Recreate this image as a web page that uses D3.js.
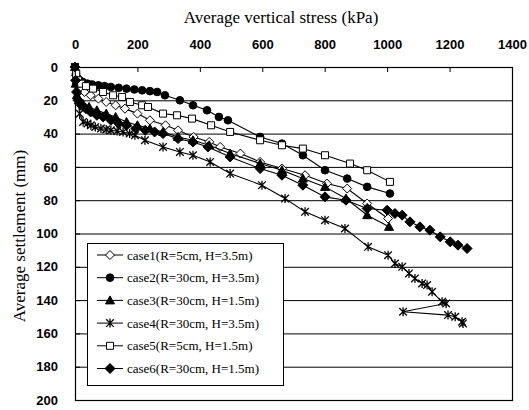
<!DOCTYPE html>
<html>
<head>
<meta charset="utf-8">
<script src="https://cdn.jsdelivr.net/npm/d3@7"></script>
<style>
  body { margin: 0; background: #fff; }
  svg { display: block; font-family: "Liberation Serif", "Times New Roman", serif; }
  .tick text { font-size: 13px; font-weight: bold; fill: #000; }
  .axistitle { font-size: 17px; fill: #000; }
  .legend text { font-size: 13px; fill: #000; }
</style>
</head>
<body>
<svg id="chart" width="529" height="410"></svg>
<script>
"use strict";

// [average vertical stress (kPa), average settlement (mm)]
const case1 = [[0,0],[3,5],[8,10],[15,13],[30,15],[50,17],[75,19],[100,21],[130,23],[160,25],[200,28],
  [240,32],[290,35],[330,38],[380,42],[430,45],[465,48],[530,52],[593,57],[663,61],[737,65],[807,70],
  [872,73],[936,82],[1003,91]];
const case2 = [[0,0],[3,4],[8,7],[15,8],[25,9],[40,10],[55,10.5],[75,11],[95,11.5],[115,12],[140,12.5],
  [165,13],[190,13.5],[215,14],[240,14.5],[263,15],[288,17],[336,20],[378,23],[423,26],[461,30],[490,32],
  [593,42],[663,46],[730,53],[801,62],[872,67],[936,72],[1009,76]];
const case3 = [[0,0],[2,10],[6,17],[12,20],[25,22],[45,24],[70,26],[100,28],[130,30],[165,33],[200,35],
  [240,37],[282,39],[330,42],[378,44],[430,47],[497,52],[593,58],[663,62],[730,67],[801,72],[868,79],
  [936,89],[1006,96]];
const case4 = [[0,0],[3,8],[8,18],[15,28],[26,33],[40,34],[51,35],[65,36],[83,37],[100,37.5],[115,38],
  [135,38.5],[154,39],[175,40],[192,41],[224,44],[282,48],[336,51],[378,53],[433,57],[497,64],[599,71],
  [673,79],[737,87],[801,92],[865,97],[939,108],[1003,113],[1025,118],[1048,120],[1070,124],[1089,127],
  [1112,130],[1128,131],[1144,135],[1176,141],[1189,142],[1051,147],[1195,149],[1218,150],[1240,153],
  [1243,154]];
const case5 = [[0,0],[4,4],[10,8],[20,10],[35,11.5],[58,13],[90,15],[122,17],[151,18],[176,21],[215,23],
  [234,24],[282,28],[327,29],[375,31],[436,35],[497,39],[593,44],[663,47],[730,49],[801,53],[881,58],
  [936,62],[1009,69]];
const case6 = [[0,0],[2,8],[5,15],[10,20],[20,23],[35,25],[50,27],[70,29],[90,30],[115,32],[140,34],
  [165,35],[195,37],[225,38],[255,39],[282,40],[330,43],[378,45],[426,48],[497,54],[593,61],[663,65],
  [730,71],[801,78],[868,80],[936,85],[1000,86],[1025,88],[1048,89],[1073,93],[1105,96],[1137,98],
  [1170,102],[1202,105],[1227,107],[1256,109]];

const seriesData = [case1, case2, case3, case4, case5, case6];
const legendLabels = [
  "case1(R=5cm, H=3.5m)",
  "case2(R=30cm, H=3.5m)",
  "case3(R=30cm, H=1.5m)",
  "case4(R=30cm, H=3.5m)",
  "case5(R=5cm, H=1.5m)",
  "case6(R=30cm, H=1.5m)"
];
const markerKinds = ["opendiamond", "circle", "triangle", "star", "square", "diamond"];
const xTicks = [0, 200, 400, 600, 800, 1000, 1200, 1400];
const yTicks = [0, 20, 40, 60, 80, 100, 120, 140, 160, 180, 200];

// plot frame
const plotLeft = 75, plotRight = 512, plotTop = 67, plotBottom = 400;

const svg = d3.select("#chart");

const x = d3.scaleLinear().domain([0, 1400]).range([plotLeft, plotRight]);
const y = d3.scaleLinear().domain([0, 200]).range([plotTop, plotBottom]);

// marker shapes, centred on 0,0
function markerPath(kind) {
  switch (kind) {
    case "opendiamond": return "M0,-4.5L4.5,0L0,4.5L-4.5,0Z";
    case "diamond": return "M0,-5L5,0L0,5L-5,0Z";
    case "circle": return d3.symbol(d3.symbolCircle, 46)();
    case "triangle": return "M0,-4.5L4.5,3.5L-4.5,3.5Z";
    case "square": return "M-3.5,-3.5H3.5V3.5H-3.5Z";
    case "star": return "M-3.8,-3.8L3.8,3.8M-3.8,3.8L3.8,-3.8M0,-4.5V4.5";
  }
}
function markerFill(kind) {
  return (kind == "opendiamond" || kind == "square") ? "#fff" : (kind == "star" ? "none" : "#000");
}

// grid lines
svg.append("g")
  .selectAll("line")
  .data(yTicks.slice(1, -1))
  .join("line")
  .attr("x1", plotLeft).attr("x2", plotRight)
  .attr("y1", d => y(d) + 0.5).attr("y2", d => y(d) + 0.5)
  .attr("stroke", "#000").attr("stroke-width", 1);

// axes
const xaxis = svg.append("g")
  .attr("transform", `translate(0, ${plotTop})`)
  .call(d3.axisTop(x).tickValues(xTicks).tickFormat(d3.format("d"))
    .tickSizeInner(-5).tickSizeOuter(0).tickPadding(18));
xaxis.select(".domain").remove();
xaxis.selectAll(".tick line").attr("stroke", "#000");

const yaxis = svg.append("g")
  .attr("transform", `translate(${plotLeft}, 0)`)
  .call(d3.axisLeft(y).tickValues(yTicks).tickFormat(d3.format("d"))
    .tickSizeInner(-5).tickSizeOuter(0).tickPadding(17));
yaxis.select(".domain").remove();
yaxis.selectAll(".tick line").attr("stroke", "#000");

svg.append("rect")
  .attr("x", plotLeft + 0.5).attr("y", plotTop + 0.5)
  .attr("width", plotRight - plotLeft).attr("height", plotBottom - plotTop)
  .attr("fill", "none").attr("stroke", "#000").attr("stroke-width", 1.2);

// titles
svg.append("text")
  .classed("axistitle", true)
  .attr("x", 281)
  .attr("y", 23)
  .attr("text-anchor", "middle")
  .text("Average vertical stress (kPa)");
svg.append("text")
  .classed("axistitle", true)
  .attr("transform", `translate(25, 236) rotate(-90)`)
  .attr("text-anchor", "middle")
  .text("Average settlement (mm)");

// series
const line = d3.line().x(d => x(d[0])).y(d => y(d[1]));
const series = svg.append("g").classed("series", true)
  .selectAll("g")
  .data(seriesData)
  .join("g");
series.append("path")
  .attr("d", d => line(d))
  .attr("fill", "none").attr("stroke", "#000").attr("stroke-width", 1.1);
series.each(function(d, i) {
  let kind = markerKinds[i];
  d3.select(this).selectAll("path.marker")
    .data(d)
    .join("path")
    .classed("marker", true)
    .attr("transform", p => `translate(${x(p[0])}, ${y(p[1])})`)
    .attr("d", markerPath(kind))
    .attr("fill", markerFill(kind))
    .attr("stroke", "#000")
    .attr("stroke-width", kind == "star" ? 1.3 : 1);
});

// legend
const legend = svg.append("g").classed("legend", true);
legend.append("rect")
  .attr("x", 87.5).attr("y", 243.5).attr("width", 196).attr("height", 142)
  .attr("fill", "#fff").attr("stroke", "#000").attr("stroke-width", 1);
const rows = legend.selectAll("g.row")
  .data(legendLabels)
  .join("g")
  .classed("row", true)
  .attr("transform", (d, i) => `translate(0, ${255 + i * 22.7})`);
rows.append("line")
  .attr("x1", 97).attr("x2", 123)
  .attr("stroke", "#000").attr("stroke-width", 1);
rows.append("path")
  .attr("transform", "translate(110, 0)")
  .attr("d", (d, i) => markerPath(markerKinds[i]))
  .attr("fill", (d, i) => markerFill(markerKinds[i]))
  .attr("stroke", "#000")
  .attr("stroke-width", (d, i) => markerKinds[i] == "star" ? 1.3 : 1);
rows.append("text")
  .attr("x", 127)
  .attr("y", 4.5)
  .text(d => d);
</script>
</body>
</html>
